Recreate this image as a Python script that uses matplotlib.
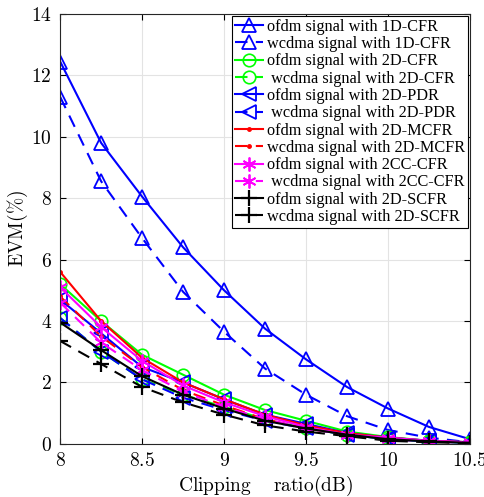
import numpy as np
import matplotlib.pyplot as plt

plt.rcParams['font.family'] = ['Liberation Serif', 'DejaVu Serif']
plt.rcParams['mathtext.fontset'] = 'cm'

clip = [8, 8.25, 8.5, 8.75, 9, 9.25, 9.5, 9.75, 10, 10.25, 10.5]

ofdm_1d = [12.45, 9.8, 8.05, 6.4, 5.0, 3.75, 2.75, 1.85, 1.15, 0.55, 0.15]
wcdma_1d = [11.3, 8.55, 6.7, 4.95, 3.65, 2.45, 1.6, 0.9, 0.45, 0.2, 0.05]
ofdm_2d = [5.2, 4.0, 2.9, 2.25, 1.6, 1.1, 0.75, 0.4, 0.22, 0.1, 0.05]
wcdma_2d = [4.1, 3.0, 2.1, 1.6, 1.2, 0.8, 0.5, 0.3, 0.15, 0.08, 0.03]
ofdm_pdr = [4.7, 3.6, 2.5, 2.0, 1.45, 0.95, 0.65, 0.35, 0.2, 0.1, 0.05]
wcdma_pdr = [4.1, 3.0, 2.1, 1.5, 1.1, 0.75, 0.5, 0.3, 0.15, 0.08, 0.03]
ofdm_mcfr = [5.6, 4.0, 2.8, 2.0, 1.45, 0.95, 0.6, 0.35, 0.2, 0.1, 0.05]
wcdma_mcfr = [4.8, 3.5, 2.5, 1.75, 1.25, 0.8, 0.5, 0.3, 0.15, 0.08, 0.03]
ofdm_2cc = [5.1, 3.8, 2.7, 1.9, 1.35, 0.9, 0.55, 0.3, 0.2, 0.1, 0.05]
wcdma_2cc = [4.6, 3.3, 2.4, 1.7, 1.2, 0.8, 0.5, 0.3, 0.15, 0.08, 0.03]
ofdm_scfr = [3.95, 3.05, 2.2, 1.6, 1.15, 0.75, 0.5, 0.3, 0.15, 0.08, 0.03]
wcdma_scfr = [3.35, 2.6, 1.85, 1.35, 0.95, 0.6, 0.4, 0.25, 0.1, 0.05, 0.02]

xticks = [8, 8.5, 9, 9.5, 10, 10.5]
xticklabels = ['8', '8.5', '9', '9.5', '10', '10.5']

series = [
    (ofdm_1d, 'b', '-', '^', 'ofdm signal with 1D-CFR'),
    (wcdma_1d, 'b', '--', '^', 'wcdma signal with 1D-CFR'),
    (ofdm_2d, '#00ff00', '-', 'o', 'ofdm signal with 2D-CFR'),
    (wcdma_2d, '#00ff00', '--', 'o', ' wcdma signal with 2D-CFR'),
    (ofdm_pdr, 'b', '-', '<', 'ofdm signal with 2D-PDR'),
    (wcdma_pdr, 'b', '--', '<', ' wcdma signal with 2D-PDR'),
    (ofdm_mcfr, 'r', '-', '.', 'ofdm signal with 2D-MCFR'),
    (wcdma_mcfr, 'r', '--', '.', 'wcdma signal with 2D-MCFR'),
    (ofdm_2cc, '#ff00ff', '-', '*', 'ofdm signal with 2CC-CFR'),
    (wcdma_2cc, '#ff00ff', '--', '*', ' wcdma signal with 2CC-CFR'),
    (ofdm_scfr, 'k', '-', '+', 'ofdm signal with 2D-SCFR'),
    (wcdma_scfr, 'k', '--', '+', 'wcdma signal with 2D-SCFR'),
]

fig = plt.figure(figsize=(4.85, 4.97), dpi=100)
ax = fig.add_axes([0.124, 0.107, 0.845, 0.865])

for vals, c, ls, m, lab in series:
    if m == '*':
        mk = dict(marker=(6, 2, 0), markersize=10, markeredgewidth=1.3)
    elif m == '+':
        mk = dict(marker='+', markersize=12, markeredgewidth=1.6)
    elif m == '.':
        mk = dict(marker='.', markersize=5)
    elif m == 'o':
        mk = dict(marker='o', markersize=9, markerfacecolor='none', markeredgewidth=1.2)
    else:
        mk = dict(marker=m, markersize=10, markerfacecolor='none', markeredgewidth=1.3)
    ax.plot(clip, vals, color=c, linestyle=ls, linewidth=1.5,
            dashes=(6, 4) if ls == '--' else (None, None), label=lab, **mk)

ax.set_xlim(8, 10.5)
ax.set_ylim(0, 14)
ax.set_xticks(xticks)
ax.set_xticklabels(['$\\mathrm{%s}$' % t for t in xticklabels])
ax.set_yticks(np.arange(0, 15, 2))
ax.set_yticklabels(['$\\mathrm{%d}$' % v for v in np.arange(0, 15, 2)])
ax.grid(True, color='#e3e3e3', linewidth=0.8)
ax.set_axisbelow(True)
ax.tick_params(direction='in', top=True, right=True, labelsize=14, length=4, pad=6)
for s in ax.spines.values():
    s.set_linewidth(0.8)
    s.set_color('#262626')
ax.set_xlabel('$\\mathrm{Clipping\\quad\\ ratio(dB)}$', fontsize=14, labelpad=3)
ax.set_ylabel('$\\mathrm{EVM(\\%)}$', fontsize=14, labelpad=1)

leg = ax.legend(loc='upper right', fontsize=11.7, frameon=True, fancybox=False,
                edgecolor='k', framealpha=1, borderpad=0.2, labelspacing=0.08,
                handlelength=1.7, handletextpad=0.25, borderaxespad=0.1)
leg.get_frame().set_linewidth(0.8)

fig.savefig('out.png', dpi=100)
